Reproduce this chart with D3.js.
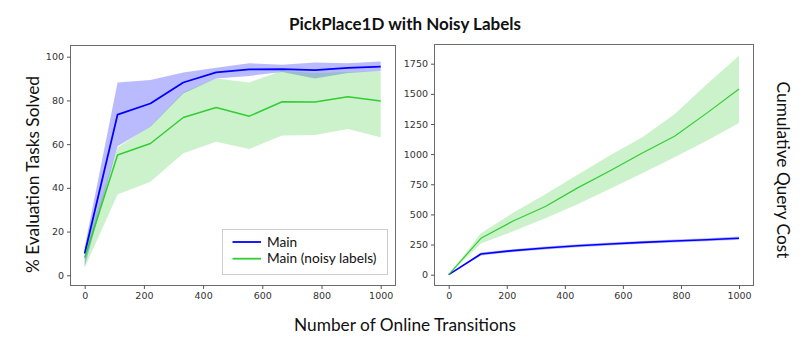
<!DOCTYPE html>
<html><head><meta charset="utf-8">
<script src="https://cdn.jsdelivr.net/npm/d3@7/dist/d3.min.js"></script>
<style>body{margin:0;background:#fff}svg{display:block}</style>
</head><body>
<svg id="c" width="810" height="347"></svg>
<script>
const steps = [0, 111, 222, 333, 444, 556, 667, 778, 889, 1000];
const xTicks = [0, 200, 400, 600, 800, 1000];
const leftTicks = [0, 20, 40, 60, 80, 100];
const rightTicks = [0, 250, 500, 750, 1000, 1250, 1500, 1750];

// Left: % evaluation tasks solved
const mainSolved      = [10, 73.5, 78.6, 88.2, 92.8, 94.2, 94.3, 93.9, 94.9, 95.5];
const mainSolvedHi    = [13, 88.2, 89.3, 92.8, 94.9, 97.0, 96.3, 97.4, 97.0, 97.8];
const mainSolvedLo    = [4, 59.0, 68.0, 83.2, 90.0, 91.2, 93.0, 90.0, 92.5, 93.5];
const noisySolved     = [8, 55.0, 60.3, 72.2, 76.8, 72.8, 79.4, 79.3, 81.7, 79.7];
const noisySolvedHi   = [12, 58.5, 68.3, 83.7, 90.0, 88.2, 93.6, 92.6, 93.0, 93.4];
const noisySolvedLo   = [3.5, 37.0, 42.8, 55.8, 61.1, 57.8, 64.0, 64.2, 66.9, 63.1];

// Right: cumulative query cost
const mainCost    = [0, 172, 200, 222, 240, 255, 268, 280, 290, 302];
const mainCostHi  = [0, 184, 212, 234, 252, 267, 280, 292, 303, 316];
const mainCostLo  = [0, 160, 188, 210, 228, 243, 256, 268, 278, 290];
const noisyCost   = [0, 302, 445, 565, 720, 862, 1010, 1148, 1340, 1540];
const noisyCostHi = [0, 343, 514, 667, 830, 990, 1140, 1330, 1580, 1815];
const noisyCostLo = [0, 258, 360, 468, 585, 712, 842, 975, 1112, 1258];

const seriesNames = ["Main", "Main (noisy labels)"];
const BLUE = "#0000ff", GREEN = "#32cd32";

const svg = d3.select("#c");
const tickFont = "DejaVu Sans";
const labelFont = "Lato";

function panel(frame, xr, yr, ydom, yticks, bands, lines) {
  const x = d3.scaleLinear().domain([0, 1000]).range(xr);
  const y = d3.scaleLinear().domain(ydom).range(yr);
  const g = svg.append("g");
  const area = (hi, lo) => d3.area().x((d, i) => x(steps[i])).y0((d, i) => y(lo[i])).y1((d, i) => y(hi[i]));
  bands.forEach(b => g.append("path").datum(b.hi).attr("d", area(b.hi, b.lo)).attr("fill", b.color).attr("fill-opacity", b.op));
  lines.forEach(l => g.append("path").datum(l.v)
    .attr("d", d3.line().x((d, i) => x(steps[i])).y(d => y(d)))
    .attr("fill", "none").attr("stroke", l.color).attr("stroke-width", l.w).attr("stroke-linejoin", "round"));
  g.append("rect").attr("x", frame[0]).attr("y", frame[1]).attr("width", frame[2] - frame[0]).attr("height", frame[3] - frame[1])
    .attr("fill", "none").attr("stroke", "#6b6b6b").attr("stroke-width", 1);
  const xa = g.append("g").attr("transform", `translate(0,${frame[3]})`)
    .call(d3.axisBottom(x).tickValues(xTicks).tickSize(3.5).tickPadding(3).tickFormat(d3.format("d")));
  const ya = g.append("g").attr("transform", `translate(${frame[0]},0)`)
    .call(d3.axisLeft(y).tickValues(yticks).tickSize(3.5).tickPadding(3).tickFormat(d3.format("d")));
  [xa, ya].forEach(a => {
    a.select(".domain").remove();
    a.selectAll(".tick line").attr("stroke", "#555");
    a.selectAll(".tick text").attr("fill", "#333").style("font-family", tickFont).style("font-size", "9.5px");
  });
  return {x, y, g};
}

const L = panel([70.5, 45.5, 395.5, 285.5], [84.7, 380.7], [275.3, 56.7], [0, 100], leftTicks,
  [{hi: mainSolvedHi, lo: mainSolvedLo, color: BLUE, op: 0.27},
   {hi: noisySolvedHi, lo: noisySolvedLo, color: GREEN, op: 0.25}],
  [{v: mainSolved, color: BLUE, w: 1.8}, {v: noisySolved, color: GREEN, w: 1.5}]);

const R = panel([434.5, 44.5, 753.5, 285.5], [448.7, 739], [274.7, 63.7], [0, 1750], rightTicks,
  [{hi: mainCostHi, lo: mainCostLo, color: BLUE, op: 0.27},
   {hi: noisyCostHi, lo: noisyCostLo, color: GREEN, op: 0.25}],
  [{v: mainCost, color: BLUE, w: 1.6}, {v: noisyCost, color: GREEN, w: 1.2}]);

// Legend
const lg = svg.append("g");
lg.append("rect").attr("x", 222.5).attr("y", 229.5).attr("width", 165).attr("height", 45)
  .attr("fill", "#fff").attr("fill-opacity", 0.85).attr("stroke", "#cccccc").attr("stroke-width", 1);
seriesNames.forEach((n, i) => {
  const yy = 242 + i * 16.7;
  lg.append("line").attr("x1", 232.5).attr("x2", 261).attr("y1", yy).attr("y2", yy)
    .attr("stroke", i ? GREEN : BLUE).attr("stroke-width", 1.8);
  lg.append("text").attr("x", 267).attr("y", yy).attr("dy", "0.35em").text(n)
    .style("font-family", labelFont).style("font-size", "13.7px").attr("fill", "#111");
});

// Titles and labels
svg.append("text").attr("x", 405).attr("y", 30).attr("text-anchor", "middle").text("PickPlace1D with Noisy Labels")
  .style("font-family", labelFont).style("font-weight", "bold").style("font-size", "17px").attr("fill", "#111");
svg.append("text").attr("x", 405).attr("y", 331).attr("text-anchor", "middle").text("Number of Online Transitions")
  .style("font-family", labelFont).style("font-size", "17.3px").attr("fill", "#111");
svg.append("text").attr("transform", "translate(39,174.5) rotate(-90)").attr("text-anchor", "middle").text("% Evaluation Tasks Solved")
  .style("font-family", labelFont).style("font-size", "17.3px").attr("fill", "#111");
svg.append("text").attr("transform", "translate(777,170) rotate(90)").attr("text-anchor", "middle").text("Cumulative Query Cost")
  .style("font-family", labelFont).style("font-size", "17.3px").attr("fill", "#111");
</script>
</body></html>
